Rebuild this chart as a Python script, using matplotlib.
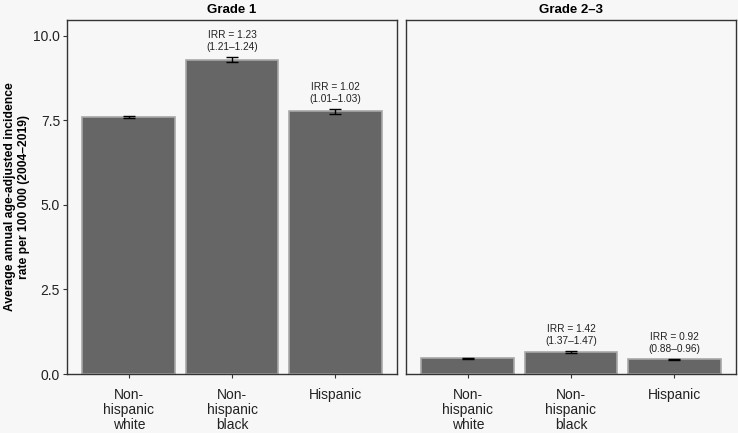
import numpy as np
import matplotlib.pyplot as plt

# Datos
categories = ['Non-\nhispanic\nwhite', 'Non-\nhispanic\nblack', 'Hispanic']
panels = ['Grade 1', 'Grade 2\u20133']
rates = [[7.60, 9.30, 7.77], [0.46, 0.65, 0.43]]
ci_low = [[7.56, 9.22, 7.70], [0.45, 0.61, 0.42]]
ci_high = [[7.64, 9.38, 7.84], [0.47, 0.69, 0.44]]
irr_labels = [[None, 'IRR = 1.23\n(1.21\u20131.24)', 'IRR = 1.02\n(1.01\u20131.03)'],
              [None, 'IRR = 1.42\n(1.37\u20131.47)', 'IRR = 0.92\n(0.88\u20130.96)']]

bg = '#f7f7f7'
plt.rcParams['font.family'] = ['Liberation Sans', 'DejaVu Sans']

fig = plt.figure(figsize=(7.38, 4.33), dpi=100, facecolor=bg)
W, H = 738, 433
lefts = [67, 406]
pw = 330
top, bottom = 20, 374

x = np.arange(len(categories))
for i, name in enumerate(panels):
    ax = fig.add_axes([lefts[i] / W, 1 - bottom / H, pw / W, (bottom - top) / H])
    ax.set_facecolor(bg)
    r = np.array(rates[i])
    lo = r - np.array(ci_low[i])
    hi = np.array(ci_high[i]) - r
    ax.bar(x, r, width=0.9, color='#666666', edgecolor='#a8a8a8', linewidth=1.2)
    ax.errorbar(x, r, yerr=[lo, hi], fmt='none', ecolor='black', elinewidth=1.0,
                capsize=4.5, capthick=1.0)
    for j, lab in enumerate(irr_labels[i]):
        if lab:
            ax.text(x[j], ci_high[i][j] + 0.15, lab, ha='center', va='bottom',
                    fontsize=7.3, color='#222222', linespacing=1.25)
    ax.set_xlim(-0.6, 2.6)
    ax.set_ylim(0, 10.47)
    ax.set_xticks(x)
    ax.set_xticklabels(categories, fontsize=10, color='#222222', linespacing=1.1,
                       va='top')
    ax.set_yticks([0, 2.5, 5.0, 7.5, 10.0])
    if i == 0:
        ax.set_yticklabels(['0.0', '2.5', '5.0', '7.5', '10.0'], fontsize=10, color='#222222')
        ax.set_ylabel('Average annual age-adjusted incidence\nrate per 100 000 (2004\u20132019)',
                      fontsize=8.7, fontweight='bold', linespacing=1.2)
        ax.yaxis.set_label_coords(-0.113, 0.5)
    else:
        ax.tick_params(axis='y', left=False, labelleft=False)
    ax.tick_params(axis='both', length=3, width=0.8, color='#333333')
    ax.tick_params(axis='x', pad=7)
    ax.tick_params(axis='y', pad=2)
    for s in ax.spines.values():
        s.set_color('#333333')
        s.set_linewidth(1.0)
    ax.set_title(name, fontsize=9.5, fontweight='bold', pad=5)

fig.savefig('out.png', dpi=100, facecolor=bg)
